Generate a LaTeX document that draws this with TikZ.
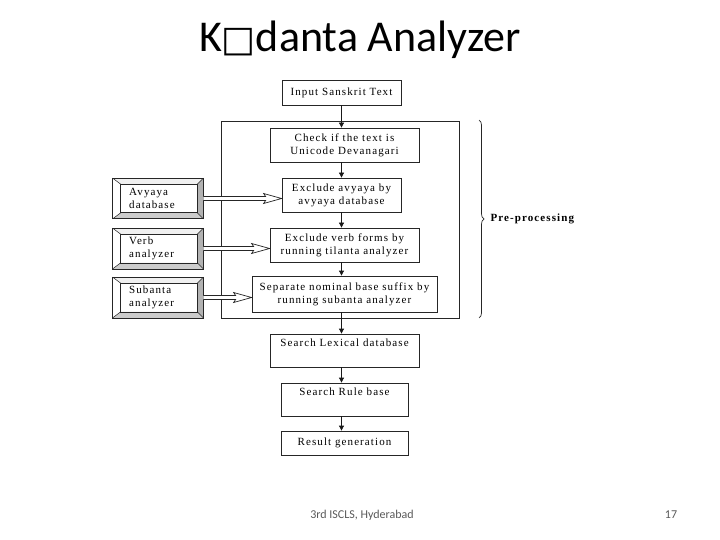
\documentclass[tikz,border=0pt]{standalone}
\usepackage{fontspec}
\setmainfont{Liberation Serif}
\newfontfamily\titlefont{Carlito}
\newfontfamily\symfont{DejaVu Sans}
\newfontfamily\diagfont{Liberation Serif}[LetterSpace=10]
\usetikzlibrary{arrows.meta,calc,decorations.pathreplacing}
\tikzset{
  x=1pt, y=-1pt,
  stepbox/.style={draw=black!85, line width=0.8pt, fill=white, align=center,
     font=\diagfont\fontsize{11}{13}\selectfont, inner sep=0pt},
  bevelbox/.style={draw=black!85, line width=0.7pt, minimum width=90pt, minimum height=40pt,
     inner sep=0pt},
  bevtext/.style={align=left, font=\diagfont\fontsize{11}{13}\selectfont, anchor=west},
  arr/.style={draw=black!90, line width=0.8pt, -{Triangle[length=5pt,width=5pt]}},
  hollow/.style={draw=black!85, line width=0.7pt, fill=white},
}
\newcommand{\bevel}[1]{%
  \fill[white] (#1.north west) -- (#1.south west) -- ($(#1.south west)+(8,-6)$) -- ($(#1.north west)+(8,6)$) -- cycle;
  \fill[gray!12] (#1.north west) -- (#1.north east) -- ($(#1.north east)+(-6,6)$) -- ($(#1.north west)+(8,6)$) -- cycle;
  \fill[gray!60] (#1.north east) -- (#1.south east) -- ($(#1.south east)+(-6,-6)$) -- ($(#1.north east)+(-6,6)$) -- cycle;
  \fill[gray!40] (#1.south west) -- (#1.south east) -- ($(#1.south east)+(-6,-6)$) -- ($(#1.south west)+(8,-6)$) -- cycle;
  \draw[black!85, line width=0.7pt] (#1.north west) rectangle (#1.south east);
  \draw[black!85, line width=0.7pt] ($(#1.north west)+(8,6)$) rectangle ($(#1.south east)+(-6,-6)$);
  \draw[black!85, line width=0.5pt] (#1.north west) -- ($(#1.north west)+(8,6)$)
     (#1.north east) -- ($(#1.north east)+(-6,6)$)
     (#1.south west) -- ($(#1.south west)+(8,-6)$)
     (#1.south east) -- ($(#1.south east)+(-6,-6)$);
}
\newcommand{\hollowarrow}[2]{%
  \draw[hollow] (#1.east) ++(0,-2) coordinate (ha1) -- ($(#1.east -| #2.west)+(-16,-2)$) -- ($(#1.east -| #2.west)+(-18,-5)$)
     -- (#1.east -| #2.west) -- ($(#1.east -| #2.west)+(-18,5)$) -- ($(#1.east -| #2.west)+(-16,2)$) -- ($(#1.east)+(0,2)$);
}
\begin{document}
\begin{tikzpicture}
\useasboundingbox (0,0) rectangle (720,540);
\fill[white] (0,0) rectangle (720,540);

% title
\node[font=\titlefont\fontsize{44}{48}\selectfont] (title) at (360,40) {K{\symfont\fontsize{36}{40}\selectfont □}danta Analyzer};

% pre-processing frame
\node[draw=black!85, line width=0.8pt, minimum width=238pt, minimum height=197pt, inner sep=0pt] (pre) at (340,219.5) {};

% main steps
\node[stepbox, minimum width=119pt, minimum height=25pt] (in) at (341.5,92.5) {Input Sanskrit Text};
\node[stepbox, minimum width=149pt, minimum height=34pt] (ch) at (344.5,145) {Check if the text is\\Unicode Devanagari};
\node[stepbox, minimum width=119pt, minimum height=34pt] (ea) at (341.5,195) {Exclude avyaya by\\avyaya database};
\node[stepbox, minimum width=149pt, minimum height=34pt] (ev) at (344.5,245) {Exclude verb forms by\\running tilanta analyzer};
\node[stepbox, minimum width=185pt, minimum height=36pt] (sp) at (344.5,294) {Separate nominal base suffix by\\running subanta analyzer};
\node[stepbox, minimum width=149pt, minimum height=33pt] (lx) at (344.5,350.5) {Search Lexical database\\[2pt]\mbox{}};
\node[stepbox, minimum width=127pt, minimum height=33pt] (rb) at (344.5,399.5) {Search Rule base\\[2pt]\mbox{}};
\node[stepbox, minimum width=127pt, minimum height=24pt] (rg) at (344.5,443) {Result generation};

% vertical arrows
\draw[arr] (in.south) -- (in.south |- ch.north);
\draw[arr] (in.south |- ch.south) -- (in.south |- ea.north);
\draw[arr] (in.south |- ea.south) -- (in.south |- ev.north);
\draw[arr] (in.south |- ev.south) -- (in.south |- sp.north);
\draw[arr] (in.south |- sp.south) -- (in.south |- lx.north);
\draw[arr] (in.south |- lx.south) -- (in.south |- rb.north);
\draw[arr] (in.south |- rb.south) -- (in.south |- rg.north);

% left bevelled boxes
\node[bevelbox] (av) at (158,198.5) {};
\node[bevelbox] (vb) at (158,248.5) {};
\node[bevelbox] (sb) at (158,297.5) {};
\bevel{av}
\bevel{vb}
\bevel{sb}
\node[bevtext] (avt) at ($(av.west)+(13,0)$) {Avyaya\\database};
\node[bevtext] (vbt) at ($(vb.west)+(13,0)$) {Verb\\analyzer};
\node[bevtext] (sbt) at ($(sb.west)+(13,0)$) {Subanta\\analyzer};

% hollow arrows
\hollowarrow{av}{ea}
\hollowarrow{vb}{ev}
\hollowarrow{sb}{sp}

% brace
\coordinate (bt) at (479,120);
\coordinate (bb) at (479,318);
\draw[black!85, line width=0.7pt, decorate, decoration={brace, amplitude=5pt}] (bt) -- (bb);
\node[anchor=west, font=\diagfont\bfseries\fontsize{11}{13}\selectfont] (pp) at (487,219) {Pre-processing};

% footer
\node[font=\titlefont\fontsize{12}{14}\selectfont, text=black!65] (ft) at (362,515) {3rd ISCLS, Hyderabad};
\node[font=\titlefont\fontsize{12}{14}\selectfont, text=black!65] (pg) at (671,515) {17};
\end{tikzpicture}
\end{document}
